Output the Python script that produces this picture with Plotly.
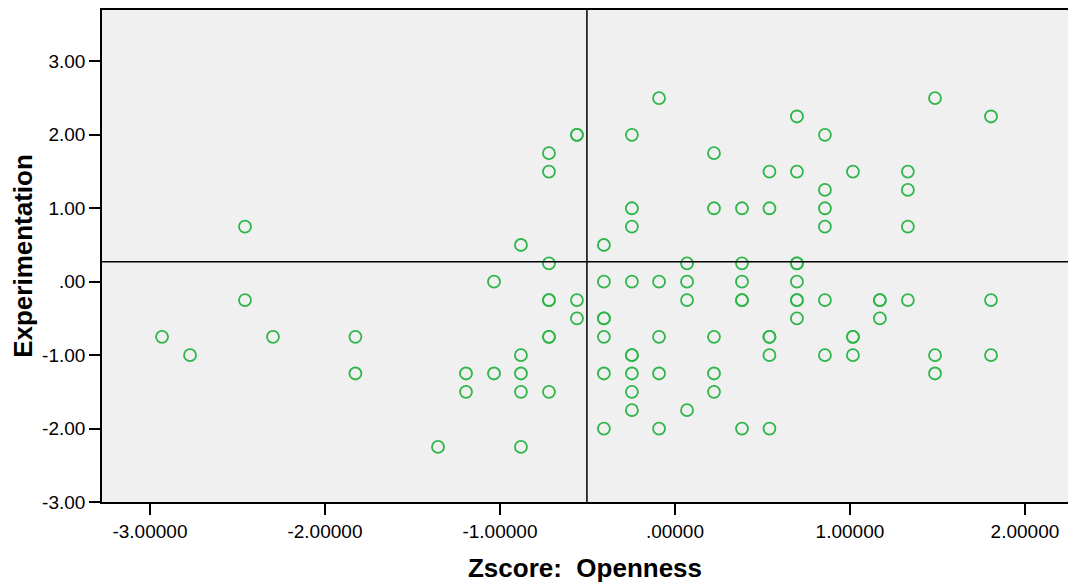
import plotly.graph_objects as go

# Column values of Zscore: Openness (x) and the Experimentation values (y) at each column
openness = (
    [-2.931] +
    [-2.771] +
    [-2.457] * 2 +
    [-2.297] +
    [-1.826] * 2 +
    [-1.354] +
    [-1.194] * 2 +
    [-1.034] * 2 +
    [-0.880] * 5 +
    [-0.720] * 8 +
    [-0.560] * 4 +
    [-0.406] * 7 +
    [-0.246] * 9 +
    [-0.091] * 5 +
    [0.069] * 4 +
    [0.223] * 5 +
    [0.383] * 6 +
    [0.540] * 6 +
    [0.697] * 8 +
    [0.857] * 6 +
    [1.017] * 4 +
    [1.171] * 3 +
    [1.331] * 4 +
    [1.486] * 3 +
    [1.806] * 3
)
experimentation = [
    -0.75,
    -1.0,
    0.75, -0.25,
    -0.75,
    -0.75, -1.25,
    -2.25,
    -1.25, -1.5,
    0.0, -1.25,
    0.5, -1.0, -1.25, -1.5, -2.25,
    1.75, 1.5, 0.25, -0.25, -0.25, -0.75, -0.75, -1.5,
    2.0, 2.0, -0.25, -0.5,
    0.5, 0.0, -0.5, -0.5, -0.75, -1.25, -2.0,
    2.0, 1.0, 0.75, 0.0, -1.0, -1.0, -1.25, -1.5, -1.75,
    2.5, 0.0, -0.75, -1.25, -2.0,
    0.25, 0.0, -0.25, -1.75,
    1.75, 1.0, -0.75, -1.25, -1.5,
    1.0, 0.25, 0.0, -0.25, -0.25, -2.0,
    1.5, 1.0, -0.75, -0.75, -1.0, -2.0,
    2.25, 1.5, 0.25, 0.25, 0.0, -0.25, -0.25, -0.5,
    2.0, 1.25, 1.0, 0.75, -0.25, -1.0,
    1.5, -0.75, -0.75, -1.0,
    -0.25, -0.25, -0.5,
    1.5, 1.25, 0.75, -0.25,
    2.5, -1.0, -1.25,
    2.25, -0.25, -1.0,
]

# reference lines (means)
ref_x = -0.503
ref_y = 0.27

x_tickvals = [-3, -2, -1, 0, 1, 2]
x_ticktext = ["-3.00000", "-2.00000", "-1.00000", ".00000", "1.00000", "2.00000"]
y_tickvals = [-3, -2, -1, 0, 1, 2, 3]
y_ticktext = ["-3.00", "-2.00", "-1.00", ".00", "1.00", "2.00", "3.00"]

x_range = [-3.274, 2.246]
y_range = [-3.0, 3.70]

FONT = "Liberation Sans, Arial, sans-serif"
GREEN = "#2fb64a"

fig = go.Figure()
fig.add_trace(go.Scatter(
    x=openness, y=experimentation, mode="markers",
    marker=dict(symbol="circle-open", size=12, color=GREEN,
                line=dict(color=GREEN, width=1.8)),
    hoverinfo="x+y", showlegend=False,
))

fig.add_shape(type="line", xref="x", yref="paper", x0=ref_x, x1=ref_x, y0=0, y1=1,
              line=dict(color="black", width=1.5))
fig.add_shape(type="line", xref="paper", yref="y", x0=0, x1=1, y0=ref_y, y1=ref_y,
              line=dict(color="black", width=1.5))

fig.update_layout(
    width=1068, height=583,
    margin=dict(l=102, r=0, t=10, b=81, pad=0),
    paper_bgcolor="white", plot_bgcolor="#f0f0f0",
    font=dict(family=FONT, color="black", size=19),
)
fig.update_xaxes(
    range=x_range, tickvals=x_tickvals, ticktext=x_ticktext,
    showgrid=False, zeroline=False, showline=True, linecolor="black", linewidth=1.6,
    mirror=True, ticks="outside", ticklen=11, tickwidth=1.8, tickcolor="black",
    tickfont=dict(family=FONT, size=19, color="black"),
    title=dict(text="Zscore:  Openness", standoff=18,
               font=dict(family=FONT, size=26, color="black", weight="bold")),
    automargin=False,
)
fig.update_yaxes(
    range=y_range, tickvals=y_tickvals, ticktext=y_ticktext,
    showgrid=False, zeroline=False, showline=True, linecolor="black", linewidth=1.6,
    ticks="outside", ticklen=11, tickwidth=1.8, tickcolor="black",
    tickfont=dict(family=FONT, size=19, color="black"),
    title=dict(text="Experimentation", standoff=2,
               font=dict(family=FONT, size=26, color="black", weight="bold")),
    automargin=False,
)

fig.write_html("out.html")
